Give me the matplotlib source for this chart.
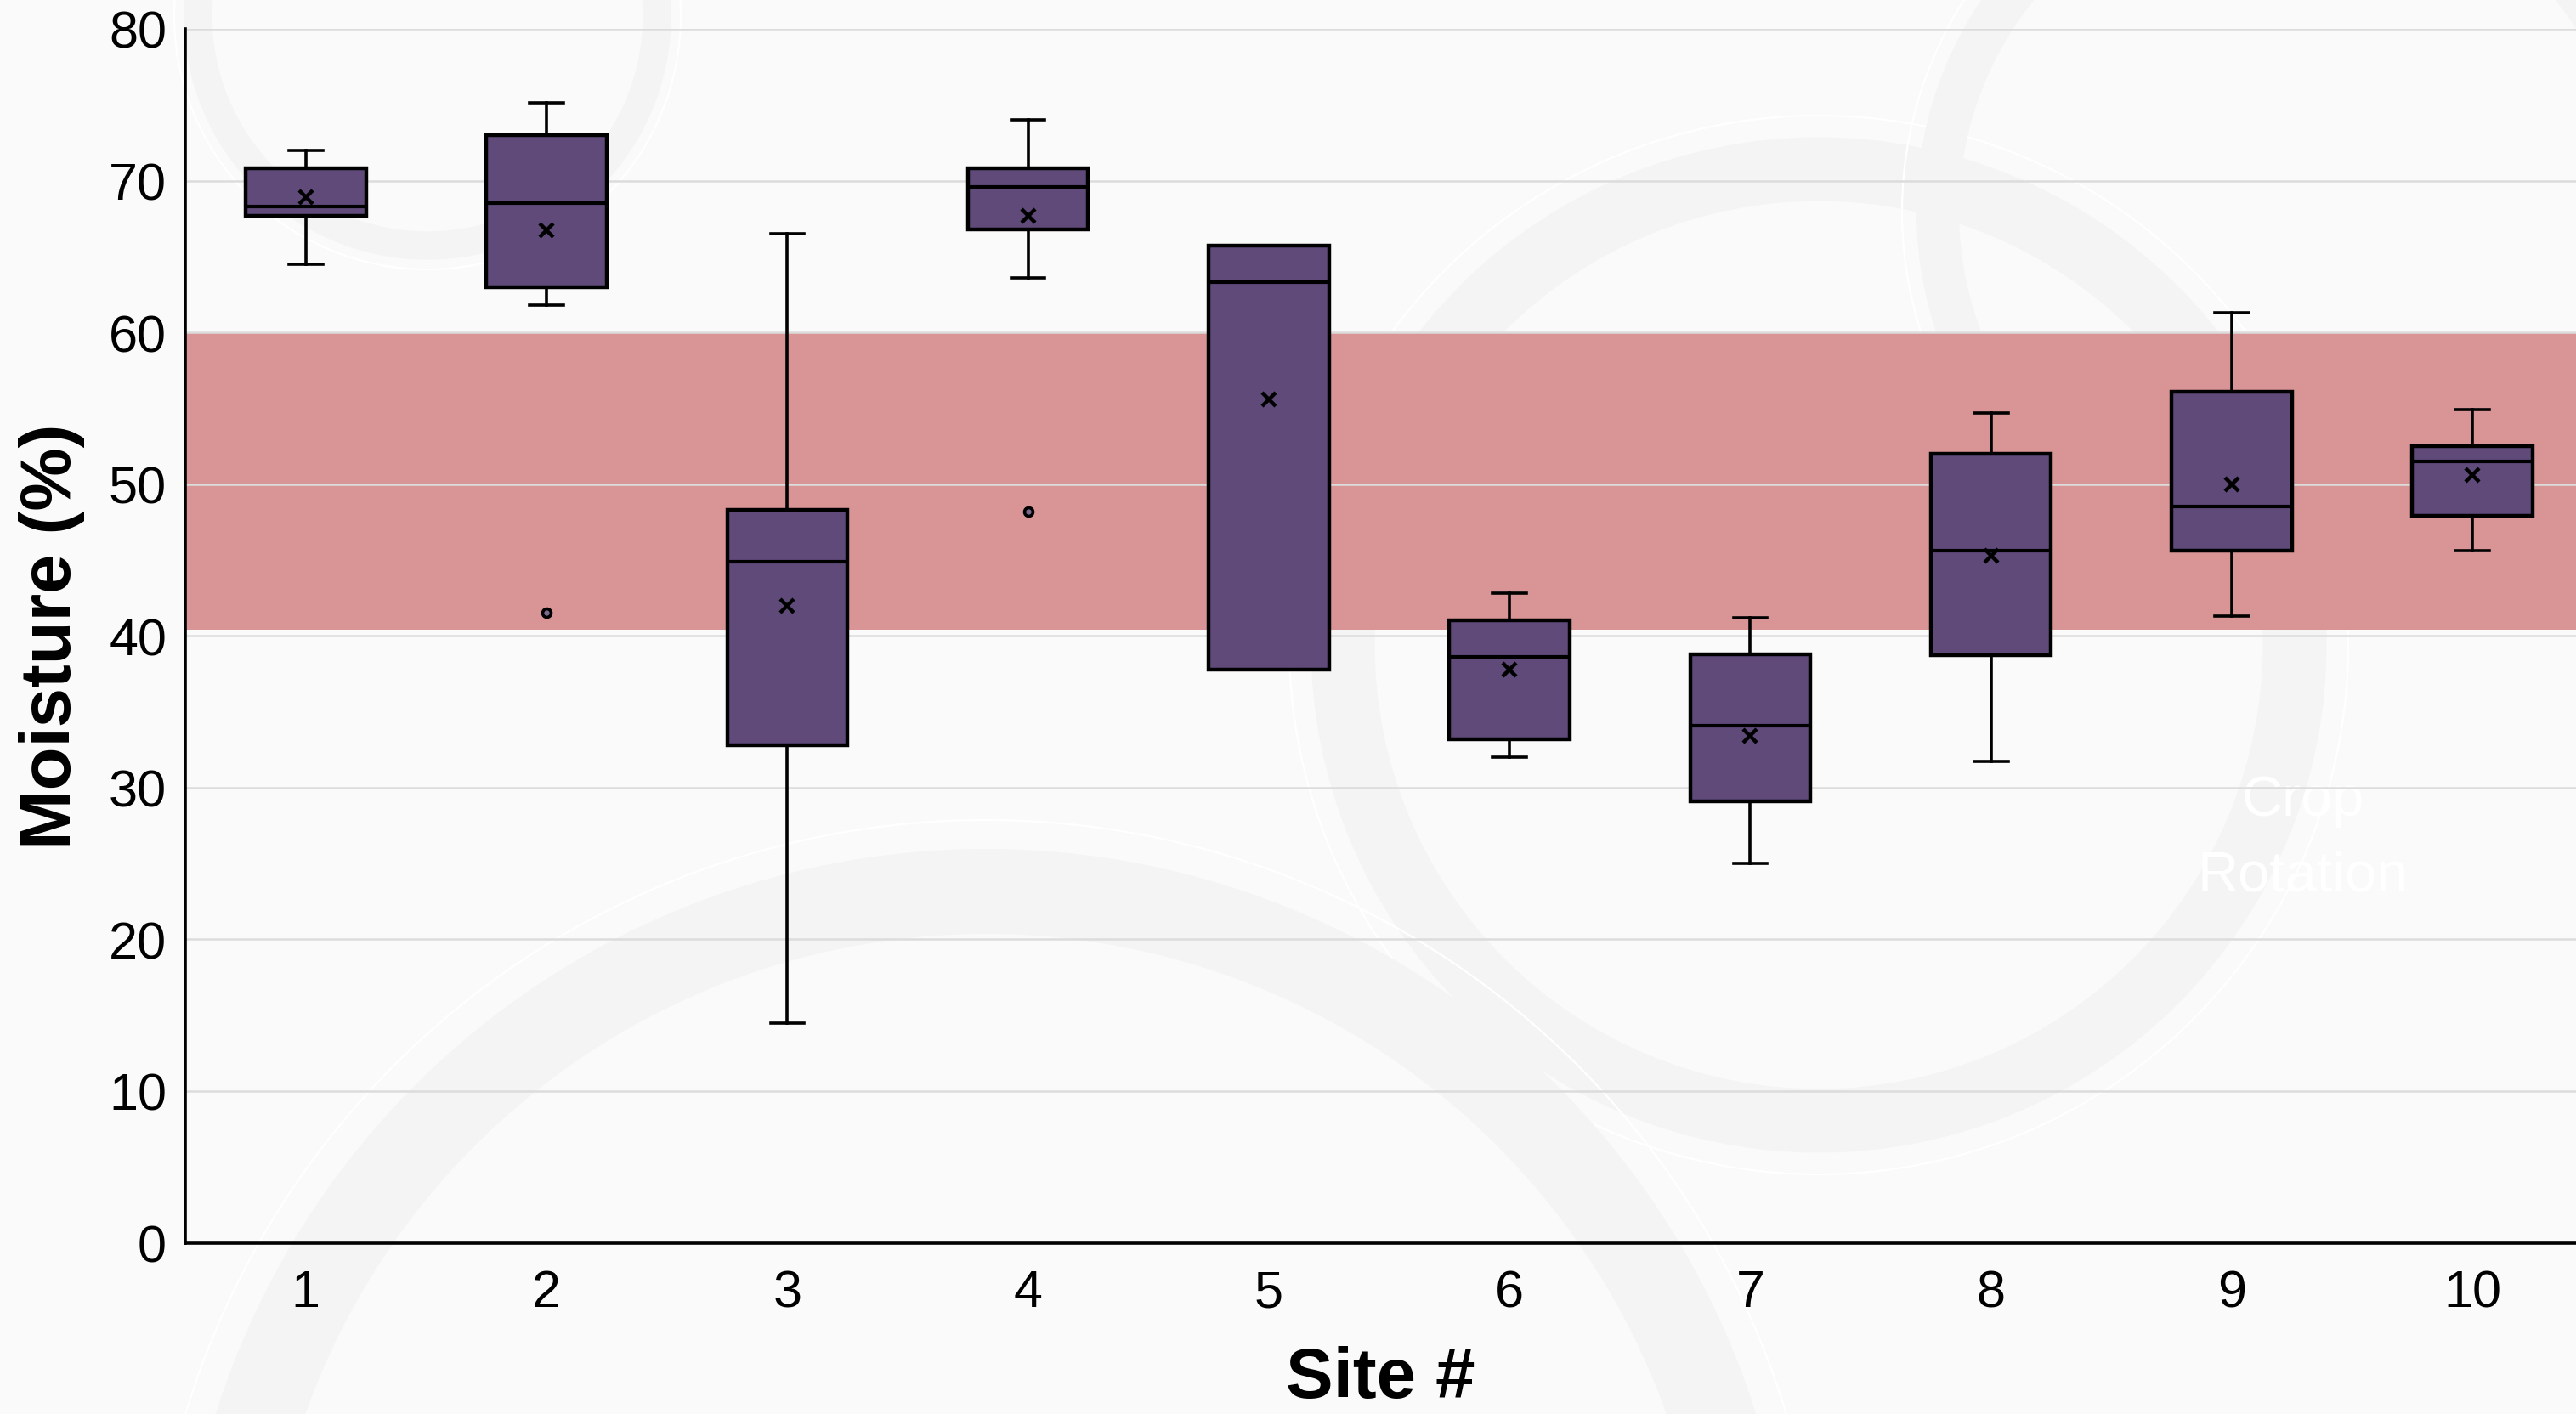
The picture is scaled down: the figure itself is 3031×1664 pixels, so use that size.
import matplotlib
matplotlib.use('Agg')
import matplotlib.pyplot as plt
from matplotlib.patches import Circle

# 数据
sites = [1, 2, 3, 4, 5, 6, 7, 8, 9, 10]
whisker_low = [64.5, 61.8, 14.5, 63.6, 37.8, 32.0, 25.0, 31.7, 41.3, 45.6]
q1 = [67.7, 63.0, 32.8, 66.8, 37.8, 33.2, 29.1, 38.7, 45.6, 47.9]
median = [68.3, 68.5, 44.9, 69.6, 63.3, 38.6, 34.1, 45.6, 48.5, 51.5]
q3 = [70.8, 73.0, 48.3, 70.8, 65.7, 41.0, 38.8, 52.0, 56.1, 52.5]
whisker_high = [72.0, 75.1, 66.5, 74.0, 65.7, 42.8, 41.2, 54.7, 61.3, 54.9]
mean = [68.9, 66.7, 42.0, 67.7, 55.6, 37.8, 33.4, 45.3, 50.0, 50.6]
outliers = [[], [41.5], [], [48.2], [], [], [], [], [], []]

band_low, band_high = 40.4, 60.0
y_ticks = [0, 10, 20, 30, 40, 50, 60, 70, 80]

plt.rcParams['font.family'] = ['Liberation Sans', 'DejaVu Sans']

fig = plt.figure(figsize=(15.155, 8.325), dpi=200, facecolor='#fafafa')

# 背景水印（很淡）
bg = fig.add_axes([0, 0, 1, 1], zorder=-5)
bg.set_xlim(0, 3031)
bg.set_ylim(1665, 0)
bg.set_aspect('equal')
bg.axis('off')
bg.set_facecolor('#fafafa')
rings = [((503, 20), 270, 40), ((2140, 760), 560, 90), ((1160, 1950), 900, 120), ((2700, 250), 420, 60)]
for (cx, cy), r, w in rings:
    bg.add_patch(Circle((cx, cy), r, fill=False, lw=w * 0.3, color='#f4f4f4'))
    bg.add_patch(Circle((cx, cy), r + w * 0.7, fill=False, lw=0.8, color='#ffffff'))
bg.text(2710, 943, 'Crop', color='white', fontsize=24, ha='center', va='center')
bg.text(2710, 1032, 'Rotation', color='white', fontsize=24, ha='center', va='center')

ax = fig.add_axes([0.072, 0.121, 0.928, 0.858])
ax.patch.set_alpha(0)

# 盒须图
stats = []
for i in range(len(sites)):
    stats.append({
        'whislo': whisker_low[i], 'q1': q1[i], 'med': median[i], 'q3': q3[i],
        'whishi': whisker_high[i], 'mean': mean[i], 'fliers': outliers[i],
        'label': str(sites[i]),
    })

ax.bxp(stats, positions=sites, widths=0.5, patch_artist=True, showmeans=True,
       capwidths=0.14,
       boxprops={'facecolor': '#5f4a7a', 'edgecolor': 'black', 'linewidth': 1.6},
       medianprops={'color': 'black', 'linewidth': 1.5},
       whiskerprops={'color': 'black', 'linewidth': 1.3},
       capprops={'color': 'black', 'linewidth': 1.3},
       meanprops={'marker': 'x', 'markeredgecolor': 'black', 'markersize': 6, 'markeredgewidth': 1.6},
       flierprops={'marker': 'o', 'markersize': 3.6, 'markerfacecolor': '#7a6a8e',
                   'markeredgecolor': 'black', 'markeredgewidth': 1.3},
       zorder=3)

# 目标湿度区间
ax.axhspan(band_low, band_high, color='#d99595', zorder=0.3, lw=0)

ax.set_xlim(0.5, 10.43)
ax.set_ylim(0, 80)
ax.set_yticks(y_ticks)
ax.set_xticks(sites)
ax.set_xticklabels([str(s) for s in sites])
ax.set_axisbelow(True)
ax.yaxis.grid(True, color='#dcdcdc', linewidth=0.9)
ax.tick_params(axis='both', length=0, labelsize=22)
ax.tick_params(axis='x', pad=11)
ax.tick_params(axis='y', pad=8)

ax.spines['top'].set_visible(False)
ax.spines['right'].set_visible(False)
ax.spines['left'].set_linewidth(1.3)
ax.spines['bottom'].set_linewidth(1.3)

ax.set_xlabel('Site #', fontsize=30, fontweight='bold', labelpad=12)
ax.set_ylabel('Moisture (%)', fontsize=30, fontweight='bold', labelpad=10)

fig.savefig('out.png', facecolor=fig.get_facecolor())
